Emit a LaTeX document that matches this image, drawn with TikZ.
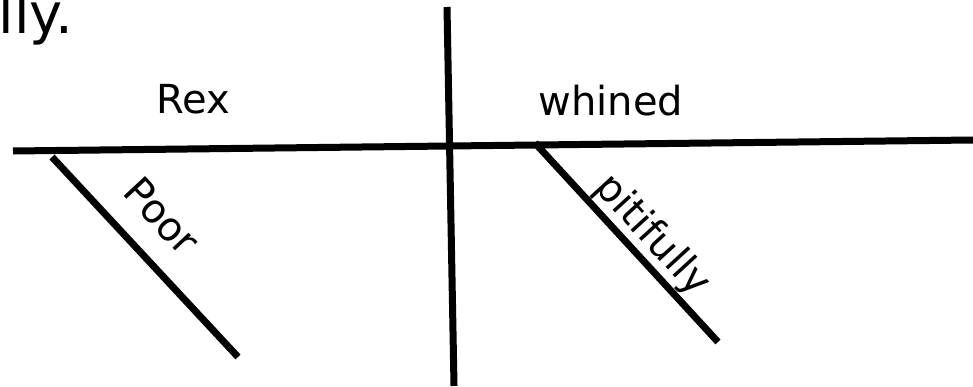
\documentclass[tikz,border=0pt]{standalone}
\usepackage{fontspec}
\setmainfont{DejaVu Sans}
\begin{document}
\begin{tikzpicture}[x=1pt,y=-1pt,
  rule/.style={line width=7pt,black},
  word/.style={font=\fontsize{40}{48}\selectfont,inner sep=0pt}]
\useasboundingbox[fill=white] (0,0) rectangle (973,387);
% base line and divider
\coordinate (hl) at (13,151);
\coordinate (hr) at (973,140);
\coordinate (vt) at (447,7);
\coordinate (vb) at (454,386);
\coordinate (pa) at (52,157);
\coordinate (pb) at (238,357);
\coordinate (qa) at (535,143);
\coordinate (qb) at (718,342);
\draw[rule] (hl) -- (hr);
\draw[rule] (vt) -- (vb);
\draw[rule] (pa) -- (pb);
\draw[rule] (qa) -- (qb);
% words
\node[word,anchor=base east,font=\fontsize{56}{60}\selectfont] (top) at (73,34) {lly.};
\node[word,anchor=base] (rex) at (193,114) {Rex};
\node[word,anchor=base] (whined) at (611,116) {whined};
\node[word,rotate=-47] (poor) at (162,216) {Poor};
\node[word,rotate=-47.5] (pit) at (652,236) {pitifully};
\end{tikzpicture}
\end{document}
